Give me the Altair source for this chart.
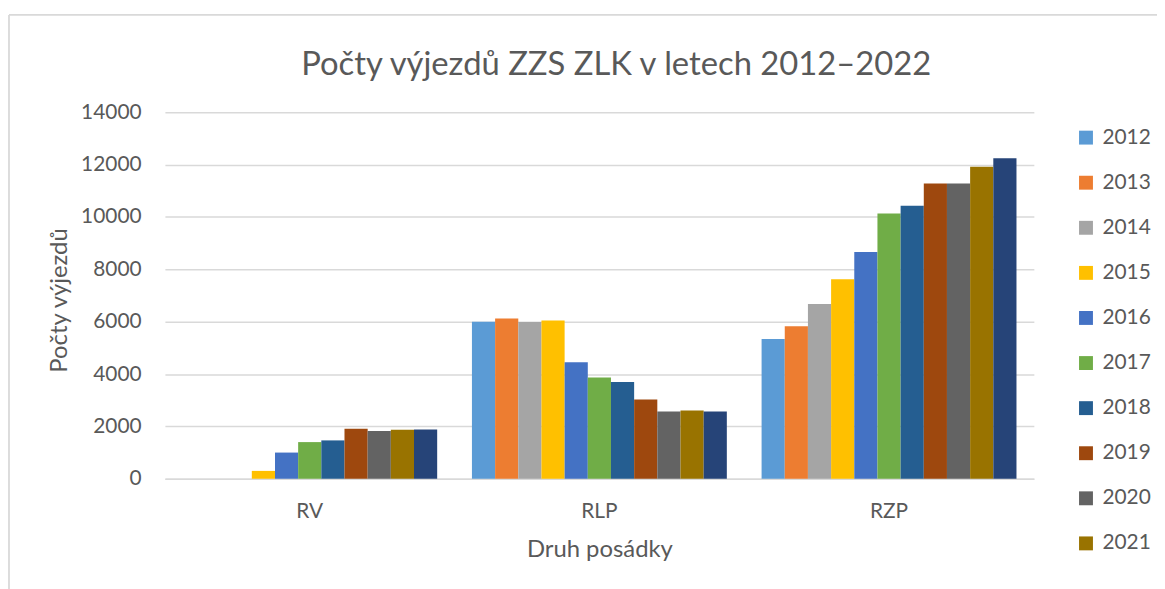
import altair as alt
import pandas as pd

groups = ["RV", "RLP", "RZP"]
years = [str(y) for y in range(2012, 2023)]
rv_values = [0, 0, 0, 300, 1000, 1400, 1465, 1910, 1820, 1870, 1885]
rlp_values = [6000, 6120, 5990, 6045, 4455, 3870, 3700, 3030, 2570, 2610, 2570]
rzp_values = [5340, 5830, 6680, 7620, 8660, 10130, 10430, 11280, 11280, 11920, 12240]
colors = ["#5B9BD5", "#ED7D31", "#A5A5A5", "#FFC000", "#4472C4", "#70AD47",
          "#255E91", "#9E480E", "#636363", "#997300", "#264478"]
y_ticks = [0, 2000, 4000, 6000, 8000, 10000, 12000, 14000]

rows = []
for g, vals in zip(groups, [rv_values, rlp_values, rzp_values]):
    for yr, v in zip(years, vals):
        rows.append({"druh": g, "rok": yr, "pocet": v})
df = pd.DataFrame(rows)

FONT = "Lato"
TXT = "#595959"
GRID = "#d9d9d9"

bars = alt.Chart(df).mark_bar().encode(
    x=alt.X("druh:N", sort=groups,
            scale=alt.Scale(paddingInner=0.12, paddingOuter=0.06),
            axis=alt.Axis(title="Druh posádky", labelAngle=0, ticks=False, tickSize=0,
                          domain=True, domainColor=GRID, domainWidth=1.5,
                          labelPadding=22, titleY=78, titleBaseline="alphabetic",
                          titleFontSize=24)),
    xOffset=alt.XOffset("rok:N", sort=years,
                        scale=alt.Scale(paddingInner=0, paddingOuter=0)),
    y=alt.Y("pocet:Q", scale=alt.Scale(domain=[0, 14000], nice=False),
            axis=alt.Axis(values=y_ticks, format="d", title="Počty výjezdů", grid=True,
                          gridColor=GRID, gridWidth=1.5, domain=False, ticks=False,
                          tickSize=0, labelPadding=24, titleX=-99, titleY=189,
                          titleBaseline="alphabetic", titleAngle=-90,
                          titleFontSize=24)),
    color=alt.Color("rok:N", sort=years,
                    scale=alt.Scale(domain=years, range=colors),
                    legend=alt.Legend(values=years[:10], title=None, orient="none",
                                      legendX=917, legendY=15, symbolType="square",
                                      symbolSize=196, labelFontSize=21, labelOffset=6,
                                      rowPadding=23.4, padding=0, symbolStrokeWidth=0,
                                      labelColor=TXT, labelFont=FONT)),
)

one = alt.Data(values=[{"a": 1}])
border_left = alt.Chart(one).mark_rule(color=GRID, strokeWidth=1.8).encode(
    x=alt.value(-157), y=alt.value(-98), y2=alt.value(520))
border_top = alt.Chart(one).mark_rule(color=GRID, strokeWidth=1.8).encode(
    x=alt.value(-157), x2=alt.value(1100), y=alt.value(-98))

chart = alt.layer(bars, border_left, border_top).properties(
    width=875, height=369,
    padding={"left": 158, "top": 103, "right": 124, "bottom": 109},
    autosize="none",
    title=alt.TitleParams("Počty výjezdů ZZS ZLK v letech 2012–2022", fontSize=33,
                          font=FONT, color=TXT, fontWeight="normal", anchor="middle",
                          dx=17, offset=-68),
).configure_view(stroke=None).configure_axis(
    labelFont=FONT, titleFont=FONT, labelColor=TXT, titleColor=TXT,
    labelFontSize=21, titleFontWeight="normal"
)

chart.save("out.html", embed_options={"renderer": "svg", "actions": False})
